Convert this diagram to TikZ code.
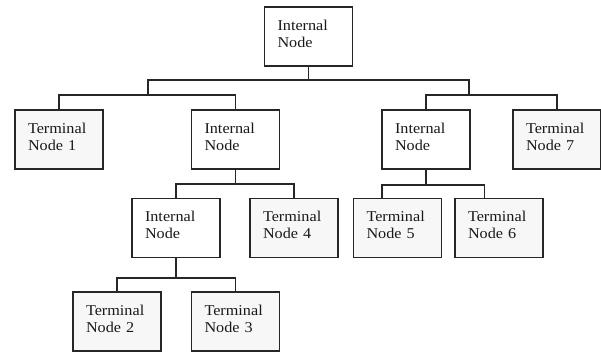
\documentclass[tikz,border=0pt]{standalone}
\usepackage{fontspec}
\setmainfont{Liberation Serif}[FakeStretch=1.08]
\usetikzlibrary{calc}
\begin{document}
\begin{tikzpicture}[x=1pt,y=-1pt,
  box/.style={draw=black!85,line width=1.3pt,rectangle,minimum width=88pt,minimum height=59pt,
    text width=62pt,align=left,inner sep=0pt,text height=10pt,text depth=23pt,
    font=\fontsize{15}{17}\selectfont,text=black!90},
  term/.style={box,fill=black!3},
  intern/.style={box,fill=white},
  conn/.style={draw=black!85,line width=1.3pt}]
\useasboundingbox (0,0) rectangle (601,351);
% nodes
\node[intern] (root) at (308.5,36.5) {Internal\\Node};
\node[term]   (t1)   at (59,139.5)   {Terminal\\Node 1};
\node[intern] (iL)   at (235.5,139.5) {Internal\\Node};
\node[intern] (iR)   at (426,139.5)  {Internal\\Node};
\node[term]   (t7)   at (557,139.5)  {Terminal\\Node 7};
\node[intern] (iLL)  at (176,228)    {Internal\\Node};
\node[term]   (t4)   at (294,228)    {Terminal\\Node 4};
\node[term]   (t5)   at (397.5,228)  {Terminal\\Node 5};
\node[term]   (t6)   at (499,228)    {Terminal\\Node 6};
\node[term]   (t2)   at (117,321.5)  {Terminal\\Node 2};
\node[term]   (t3)   at (235.5,321.5) {Terminal\\Node 3};
% junctions
\coordinate (j0) at (308.5,80);
\coordinate (jL) at (148,95);
\coordinate (jR) at (469,95);
\coordinate (k1) at (235.5,184);
\coordinate (k2) at (426,185);
\coordinate (k3) at (176,278);
% connectors
\draw[conn] (root.south) -- (j0);
\draw[conn] (jL) |- (j0) -| (jR);
\draw[conn] (t1.north) |- (jL) -| (iL.north);
\draw[conn] (iR.north) |- (jR) -| (t7.north);
\draw[conn] (iL.south) -- (k1);
\draw[conn] (iLL.north) |- (k1) -| (t4.north);
\draw[conn] (iR.south) -- (k2);
\draw[conn] ($(t5.north west)+(29,0)$) |- (k2) -| ($(t6.north west)+(30,0)$);
\draw[conn] (iLL.south) -- (k3);
\draw[conn] (t2.north) |- (k3) -| (t3.north);
\end{tikzpicture}
\end{document}
